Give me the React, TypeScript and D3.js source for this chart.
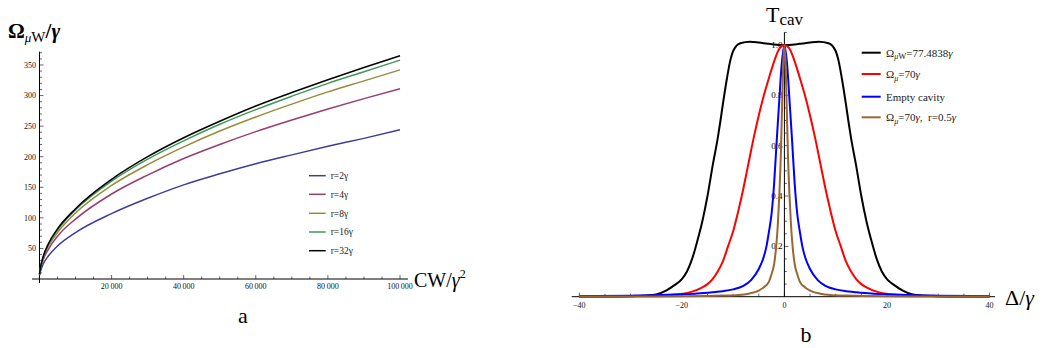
import React from "react";
import * as d3 from "d3";

// ---------- Panel a data ----------
const cwValues = [0, 250, 1000, 2500, 5000, 10000, 20000, 30000, 40000, 50000, 60000, 70000, 80000, 90000, 100000];
const omegaR2 = [6, 12, 24, 38, 54, 76, 107, 132, 154, 172, 188.5, 203, 217, 230, 244];
const omegaR4 = [7, 15, 31, 49, 70, 98, 139, 170, 197, 220, 241, 260, 278, 295, 311];
const omegaR8 = [8, 17, 34, 54, 76, 108, 153, 187, 216, 242, 265, 286, 306, 324, 342];
const omegaR16 = [8, 18, 36, 57, 80, 113, 160, 196, 226, 253, 277, 299, 320, 339, 358];
const omegaR32 = [8, 18, 36, 58, 82, 115, 163, 200, 231, 258, 283, 305, 326, 346, 365];
const leftLabels = ["r=2γ", "r=4γ", "r=8γ", "r=16γ", "r=32γ"];
const leftColors = ["#3d3d99", "#993d71", "#998b3d", "#3d9957", "#000000"];
const leftXTicks = [20000, 40000, 60000, 80000, 100000];
const leftXTickLabels = ["20\u2009000", "40\u2009000", "60\u2009000", "80\u2009000", "100\u2009000"];
const leftYTicks = [50, 100, 150, 200, 250, 300, 350];

// ---------- Panel b data ----------
const blackX = [-40, -35, -30, -27, -25, -23, -21.5, -20, -19, -18, -17, -16, -15, -14, -13, -12.5, -12, -11.2, -10.6, -9.9, -8.6, -6.7, -5, -3.5, -2, 0,
  2, 3.5, 5, 6.7, 8.6, 9.9, 10.6, 11.2, 12, 12.5, 13, 14, 15, 16, 17, 18, 19, 20, 21.5, 23, 25, 27, 30, 35, 40];
const blackT = [0.0005, 0.001, 0.002, 0.005, 0.009, 0.025, 0.045, 0.07, 0.1, 0.15, 0.22, 0.3, 0.4, 0.52, 0.63, 0.695, 0.765, 0.868, 0.934, 0.98, 1.007, 1.013, 1.01, 1.006, 1.002, 1.0,
  1.002, 1.006, 1.01, 1.013, 1.007, 0.98, 0.934, 0.868, 0.765, 0.695, 0.63, 0.52, 0.4, 0.3, 0.22, 0.15, 0.1, 0.07, 0.045, 0.025, 0.009, 0.005, 0.002, 0.001, 0.0005];
const redX = [-40, -35, -30, -25, -22, -20, -18, -16, -15, -14, -13, -12, -11, -10, -9, -8, -7, -6, -5, -4, -3, -2, -1, 0,
  1, 2, 3, 4, 5, 6, 7, 8, 9, 10, 11, 12, 13, 14, 15, 16, 18, 20, 22, 25, 30, 35, 40];
const redT = [0.0008, 0.001, 0.002, 0.004, 0.007, 0.011, 0.02, 0.037, 0.05, 0.07, 0.1, 0.14, 0.2, 0.26, 0.34, 0.43, 0.53, 0.63, 0.72, 0.8, 0.87, 0.935, 0.985, 1.0,
  0.985, 0.935, 0.87, 0.8, 0.72, 0.63, 0.53, 0.43, 0.34, 0.26, 0.2, 0.14, 0.1, 0.07, 0.05, 0.037, 0.02, 0.011, 0.007, 0.004, 0.002, 0.001, 0.0008];
const blueX = [-40, -30, -25, -20, -17, -14, -12, -10, -8, -6.5, -5, -4, -3.5, -3, -2.5, -2, -1.5, -1, -0.5, 0,
  0.5, 1, 1.5, 2, 2.5, 3, 3.5, 4, 5, 6.5, 8, 10, 12, 14, 17, 20, 25, 30, 40];
const blueT = [0.002, 0.004, 0.006, 0.01, 0.013, 0.018, 0.022, 0.029, 0.043, 0.066, 0.11, 0.16, 0.2, 0.26, 0.33, 0.45, 0.62, 0.78, 0.93, 1.0,
  0.93, 0.78, 0.62, 0.45, 0.33, 0.26, 0.2, 0.16, 0.11, 0.066, 0.043, 0.029, 0.022, 0.018, 0.013, 0.01, 0.006, 0.004, 0.002];
const brownX = [-40, -30, -20, -15, -12, -9, -7, -5, -4, -3, -2.5, -2, -1.6, -1.3, -1, -0.7, -0.4, -0.2, 0,
  0.2, 0.4, 0.7, 1, 1.3, 1.6, 2, 2.5, 3, 4, 5, 7, 9, 12, 15, 20, 30, 40];
const brownT = [0.0003, 0.0006, 0.0015, 0.003, 0.0045, 0.007, 0.012, 0.024, 0.038, 0.06, 0.09, 0.13, 0.2, 0.28, 0.4, 0.56, 0.8, 0.94, 1.0,
  0.94, 0.8, 0.56, 0.4, 0.28, 0.2, 0.13, 0.09, 0.06, 0.038, 0.024, 0.012, 0.007, 0.0045, 0.003, 0.0015, 0.0006, 0.0003];
const rightColors = ["#000000", "#ff0000", "#0000ff", "#996633"];
const rightXTicks = [-40, -20, 0, 20, 40];
const rightYTicks = [0.2, 0.4, 0.6, 0.8, 1.0];

const FONT = "'Liberation Serif', 'Times New Roman', serif";

export default function App() {
  const xa = d3.scaleLinear().domain([0, 100000]).range([39.5, 400]);
  const ya = d3.scaleLinear().domain([0, 350]).range([279, 65]);
  const lineA = d3.line<number>().x((_, i) => xa(cwValues[i])).y((d) => ya(d)).curve(d3.curveMonotoneX);
  const leftSeries = [omegaR2, omegaR4, omegaR8, omegaR16, omegaR32];

  const xb = d3.scaleLinear().domain([-40, 40]).range([579.3, 989.5]);
  const yb = d3.scaleLinear().domain([0, 1]).range([296.7, 45]);
  const mk = (xs: number[], ts: number[]) =>
    d3.line<number>().x((_, i) => xb(xs[i])).y((d) => yb(d)).curve(d3.curveMonotoneX)(ts) || "";
  const rightPaths = [mk(blackX, blackT), mk(redX, redT), mk(blueX, blueT), mk(brownX, brownT)];

  const leftMinorX = d3.range(5000, 100001, 5000);
  const leftMinorY = d3.range(10, 371, 10);
  const rightMinorX = d3.range(-40, 40.01, 5);
  const rightMinorY = d3.range(0.05, 1.051, 0.05);

  const legendAY = [175.7, 194.3, 213.3, 232, 250.7];
  const legendBY = [52.7, 74, 96.7, 117.3];

  return (
    <svg width={1042} height={348} style={{ position: "absolute", left: 0, top: 0, background: "#fff" }} fontFamily={FONT}>
      {/* ---------------- Panel a ---------------- */}
      <g>
        <line x1={32} x2={408} y1={ya(0)} y2={ya(0)} stroke="#000" strokeWidth={1} />
        <line x1={xa(0)} x2={xa(0)} y1={51.7} y2={283} stroke="#000" strokeWidth={1} />
        {leftMinorX.map((v) => (
          <line key={"amx" + v} x1={xa(v)} x2={xa(v)} y1={ya(0)} y2={ya(0) - (v % 20000 === 0 ? 4 : 2.5)} stroke="#000" strokeWidth={0.6} />
        ))}
        {leftMinorY.map((v) => (
          <line key={"amy" + v} x1={xa(0)} x2={xa(0) + (v % 50 === 0 ? 4 : 2.5)} y1={ya(v)} y2={ya(v)} stroke="#000" strokeWidth={0.6} />
        ))}
        {leftXTicks.map((v, i) => (
          <text key={"axl" + v} x={xa(v)} y={289} fontSize={8} textAnchor="middle" fill="#111">{leftXTickLabels[i]}</text>
        ))}
        {leftYTicks.map((v) => (
          <text key={"ayl" + v} x={36} y={ya(v) + 2.8} fontSize={8} textAnchor="end" fill="#111">{v}</text>
        ))}
        {leftSeries.map((s, i) => (
          <path key={"ac" + i} d={lineA(s) || ""} fill="none" stroke={leftColors[i]} strokeWidth={1.5} />
        ))}
        {leftLabels.map((l, i) => (
          <g key={"alg" + i}>
            <line x1={309} x2={325.7} y1={legendAY[i]} y2={legendAY[i]} stroke={leftColors[i]} strokeWidth={1.5} />
            <text x={330.7} y={legendAY[i] + 3.3} fontSize={9.5} fill="#222">{l}</text>
          </g>
        ))}
        <text x={8} y={38} fontSize={21} fontWeight="bold" fill="#000">
          Ω<tspan fontSize={13} dy={4} fontWeight="normal" fontStyle="italic">μ</tspan>
          <tspan fontSize={15} fontWeight="normal">W</tspan>
          <tspan dy={-4}>/</tspan><tspan fontStyle="italic">γ</tspan>
        </text>
        <text x={414} y={287} fontSize={20} fill="#000">
          CW/<tspan fontStyle="italic">γ</tspan><tspan fontSize={12} dy={-9}>2</tspan>
        </text>
        <text x={243} y={323} fontSize={22} textAnchor="middle" fill="#000">a</text>
      </g>

      {/* ---------------- Panel b ---------------- */}
      <g>
        <line x1={571.7} x2={995} y1={yb(0)} y2={yb(0)} stroke="#000" strokeWidth={1} />
        <line x1={xb(0)} x2={xb(0)} y1={32.3} y2={yb(0)} stroke="#000" strokeWidth={1} />
        {rightMinorX.map((v) => (
          <line key={"bmx" + v} x1={xb(v)} x2={xb(v)} y1={yb(0)} y2={yb(0) - (Math.abs(v % 20) < 1e-6 ? 4 : 3)} stroke="#000" strokeWidth={0.6} />
        ))}
        {rightMinorY.map((v, i) => (
          <line key={"bmy" + i} x1={xb(0)} x2={xb(0) + ((i + 1) % 4 === 0 ? 4 : 2.5)} y1={yb(v)} y2={yb(v)} stroke="#000" strokeWidth={0.6} />
        ))}
        {rightXTicks.map((v) => (
          <text key={"bxl" + v} x={xb(v)} y={308} fontSize={8} textAnchor="middle" fill="#111">
            {v < 0 ? "\u2212" + Math.abs(v) : String(v)}
          </text>
        ))}
        {rightYTicks.map((v) => (
          <text key={"byl" + v} x={782.5} y={yb(v) + 3} fontSize={9} textAnchor="end" fill="#000">{v.toFixed(1)}</text>
        ))}
        {rightPaths.map((p, i) => (
          <path key={"bc" + i} d={p} fill="none" stroke={rightColors[i]} strokeWidth={2} />
        ))}
        {legendBY.map((y, i) => (
          <line key={"blg" + i} x1={861.7} x2={880.7} y1={y} y2={y} stroke={rightColors[i]} strokeWidth={2} />
        ))}
        <text x={886} y={legendBY[0] + 4} fontSize={11} fill="#222">
          Ω<tspan fontSize={8} dy={2.5} fontStyle="italic">μ</tspan><tspan fontSize={8.5}>W</tspan>
          <tspan dy={-2.5}>=77.4838</tspan><tspan fontStyle="italic">γ</tspan>
        </text>
        <text x={886} y={legendBY[1] + 4} fontSize={11} fill="#222">
          Ω<tspan fontSize={8} dy={2.5} fontStyle="italic">μ</tspan>
          <tspan dy={-2.5}>=70</tspan><tspan fontStyle="italic">γ</tspan>
        </text>
        <text x={886} y={legendBY[2] + 4} fontSize={11} fill="#222">Empty cavity</text>
        <text x={886} y={legendBY[3] + 4} fontSize={11} fill="#222" xmlSpace="preserve">
          Ω<tspan fontSize={8} dy={2.5} fontStyle="italic">μ</tspan>
          <tspan dy={-2.5}>=70</tspan><tspan fontStyle="italic">γ</tspan><tspan>,  r=0.5</tspan><tspan fontStyle="italic">γ</tspan>
        </text>
        <text x={766} y={22} fontSize={22} fill="#000">
          T<tspan fontSize={17} dy={3}>cav</tspan>
        </text>
        <text x={1005} y={305} fontSize={22} fill="#000">
          Δ/<tspan fontStyle="italic">γ</tspan>
        </text>
        <text x={806} y={342} fontSize={22} textAnchor="middle" fill="#000">b</text>
      </g>
    </svg>
  );
}
